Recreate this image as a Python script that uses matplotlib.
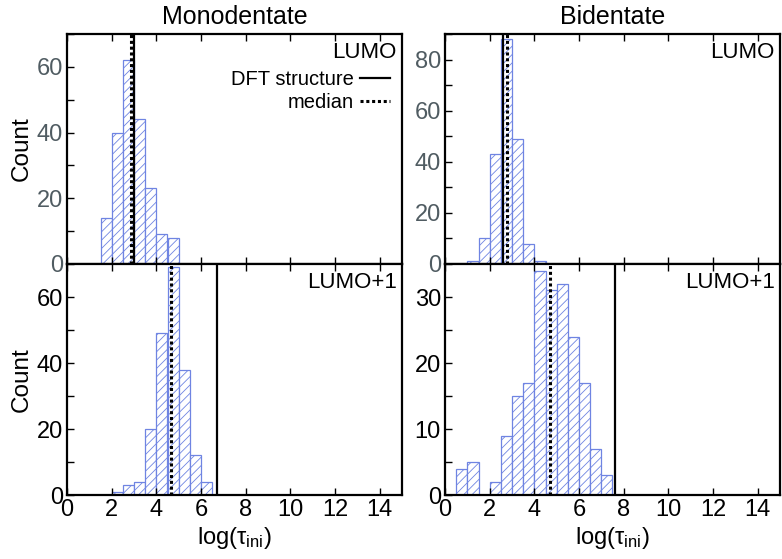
import matplotlib.pyplot as plt
from matplotlib.ticker import MultipleLocator

plt.rcParams['font.family'] = ['Liberation Sans', 'DejaVu Sans']
plt.rcParams['mathtext.fontset'] = 'custom'
plt.rcParams['mathtext.rm'] = 'Liberation Sans'
plt.rcParams['mathtext.it'] = 'Liberation Sans:italic'
plt.rcParams['hatch.linewidth'] = 0.6

# histogram data: left edge of first bin and counts (bin width 0.5)
bin_width = 0.5
mono_lumo_start = 1.5
mono_lumo_counts = [14, 40, 62, 44, 23, 9, 8]
mono_lumo1_start = 2.0
mono_lumo1_counts = [1, 3, 4, 20, 49, 69, 38, 12, 4]
bi_lumo_start = 1.0
bi_lumo_counts = [1, 10, 43, 88, 49, 8, 1]
bi_lumo1_start = 0.5
bi_lumo1_counts = [4, 5, 0, 2, 9, 15, 17, 34, 31, 32, 24, 17, 7, 3]

# DFT structure value and median, log(tau_ini)
mono_lumo_dft, mono_lumo_med = 3.02, 2.85
mono_lumo1_dft, mono_lumo1_med = 6.70, 4.64
bi_lumo_dft, bi_lumo_med = 2.61, 2.79
bi_lumo1_dft, bi_lumo1_med = 7.63, 4.69

ylims = [70, 90, 70, 35]
ymajor = [20, 20, 20, 10]
panel_txt = ['LUMO', 'LUMO', 'LUMO+1', 'LUMO+1']

fig = plt.figure(figsize=(7.82, 5.59), dpi=100)
W, H = 782, 559
def box(x0, y0, x1, y1):
    return [x0 / W, 1 - y1 / H, (x1 - x0) / W, (y1 - y0) / H]

axes = [fig.add_axes(box(67, 34, 402, 264)),
        fig.add_axes(box(445, 34, 780, 264)),
        fig.add_axes(box(67, 264, 402, 495)),
        fig.add_axes(box(445, 264, 780, 495))]

data = [(mono_lumo_start, mono_lumo_counts, mono_lumo_dft, mono_lumo_med),
        (bi_lumo_start, bi_lumo_counts, bi_lumo_dft, bi_lumo_med),
        (mono_lumo1_start, mono_lumo1_counts, mono_lumo1_dft, mono_lumo1_med),
        (bi_lumo1_start, bi_lumo1_counts, bi_lumo1_dft, bi_lumo1_med)]

blue = '#6f84e2'
for i, ax in enumerate(axes):
    start, counts, dft, med = data[i]
    lefts = [start + j * bin_width for j in range(len(counts))]
    ax.bar(lefts, counts, width=bin_width, align='edge', color='white',
           edgecolor=blue, hatch='////', linewidth=0.9)
    l1 = ax.axvline(dft, color='black', lw=1.6)
    l2 = ax.axvline(med, color='black', lw=2.2, linestyle=(0, (1.0, 0.9)))
    ax.set_xlim(0, 15)
    ax.set_ylim(0, ylims[i])
    ax.xaxis.set_major_locator(MultipleLocator(2))
    ax.yaxis.set_major_locator(MultipleLocator(ymajor[i]))
    ax.yaxis.set_minor_locator(MultipleLocator(ymajor[i] / 2))
    ax.tick_params(which='both', direction='in', top=True, right=False,
                   length=5, width=1, labelsize=17, pad=3)
    for s in ax.spines.values():
        s.set_linewidth(1.6)
    ax.text(0.985, 0.965, panel_txt[i], transform=ax.transAxes,
            ha='right', va='top', fontsize=16)
    if i < 2:
        ax.tick_params(axis='x', labelbottom=False)
        ax.tick_params(axis='y', labelcolor='#505c62')
    else:
        ax.set_xlabel(r'log(τ$_{\mathrm{ini}}$)', fontsize=17, labelpad=3)
    if i in (0, 2):
        ax.set_ylabel('Count', fontsize=17.5, labelpad=3)
    if i == 0:
        ax.legend([l1, l2], ['DFT structure', 'median'], loc='upper right',
                  bbox_to_anchor=(1.0, 0.895), frameon=False, markerfirst=False,
                  fontsize=14.5, handlelength=1.5, handletextpad=0.3,
                  labelspacing=0.2, borderaxespad=0.2)

axes[0].set_title('Monodentate', fontsize=18, pad=7)
axes[1].set_title('Bidentate', fontsize=18, pad=7)

fig.savefig('out.png', dpi=100)
